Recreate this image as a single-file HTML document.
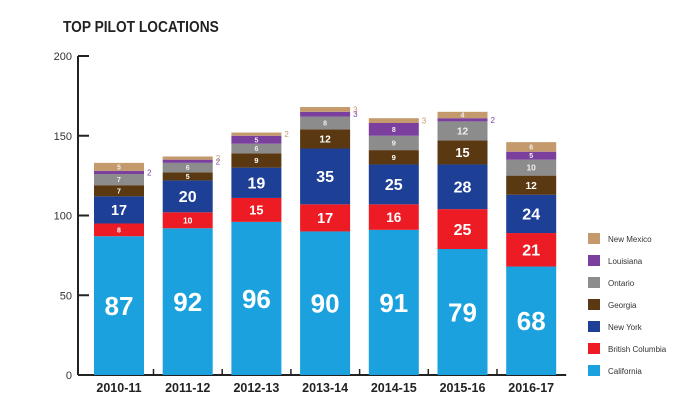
<!DOCTYPE html>
<html><head><meta charset="utf-8"><style>
body{margin:0;background:#fff;width:700px;height:414px;overflow:hidden;font-family:"Liberation Sans",sans-serif}
</style></head><body>
<svg id="chart" width="700" height="414" xmlns="http://www.w3.org/2000/svg">
<text x="63" y="32" font-size="16" font-weight="bold" fill="#222" transform="translate(63,0) scale(0.86,1) translate(-63,0)">TOP PILOT LOCATIONS</text>
<g id="axes"></g><g id="bars"></g><g id="legend"></g>
</svg>
<script>
const categories=["2010-11","2011-12","2012-13","2013-14","2014-15","2015-16","2016-17"];
const seriesNames=["California","British Columbia","New York","Georgia","Ontario","Louisiana","New Mexico"];
const california=[87,92,96,90,91,79,68];
const britishColumbia=[8,10,15,17,16,25,21];
const newYork=[17,20,19,35,25,28,24];
const georgia=[7,5,9,12,9,15,12];
const ontario=[7,6,6,8,9,12,10];
const louisiana=[2,2,5,3,8,2,5];
const newMexico=[5,2,2,3,3,4,6];
const yTicks=[0,50,100,150,200];
const colors=["#1ba1dd","#ed1c24","#1e3f96","#5a3812","#8c8c8c","#7b3f9e","#c49a6c"];
const series=[california,britishColumbia,newYork,georgia,ontario,louisiana,newMexico];
const NS="http://www.w3.org/2000/svg";
const y0=375,yTop=56,yMax=200;
const y=v=>y0-(v/yMax)*(y0-yTop);
const x=i=>94+i*68.7;
const bw=50;
function mk(t,a,p){const e=document.createElementNS(NS,t);for(const k in a)e.setAttribute(k,a[k]);p.appendChild(e);return e;}
const axes=document.getElementById('axes');
const ax=mk('line',{x1:78,y1:y(200),x2:78,y2:y0,stroke:'#222','stroke-width':2},axes);


const bl=mk('line',{x1:78,y1:y0,x2:x(categories.length-1)+bw+10,y2:y0,stroke:'#222','stroke-width':2},axes);


yTicks.forEach(t=>{
 mk('line',{x1:78,y1:y(t),x2:89,y2:y(t),stroke:'#222','stroke-width':2},axes);
 const tx=mk('text',{x:72,y:y(t)+4,'text-anchor':'end','font-size':11,fill:'#333'},axes);
 tx.textContent=t;
 
 
});
for(let i=0;i<categories.length-1;i++){mk('line',{x1:x(i)+bw+9.5,y1:y0,x2:x(i)+bw+9.5,y2:y0-6,stroke:'#222','stroke-width':1.5},axes);}
const bars=document.getElementById('bars');
categories.forEach((c,i)=>{
 let cum=0;
 series.forEach((s,k)=>{
  const v=s[i];const top=y(cum+v),bot=y(cum);
  const r=mk('rect',{x:x(i),y:top,width:bw,height:bot-top,fill:colors[k]},bars);
  
  
  const t=mk('text',{},bars);
  if(v<4 && k>=5){
   t.setAttribute('x',x(i)+bw+3);t.setAttribute('y',(top+bot)/2+3);
   t.setAttribute('font-size',8);t.setAttribute('fill',colors[k]);
  }else{
   const fs=k===0?26:Math.min(16,Math.max(7,v*0.85));
   t.setAttribute('x',x(i)+bw/2);t.setAttribute('y',(top+bot)/2+fs*0.36);
   t.setAttribute('text-anchor','middle');t.setAttribute('font-size',fs);
   t.setAttribute('font-weight','bold');t.setAttribute('fill',k>=4?'#eee':'#fff');
  }
  t.textContent=v;
  
  
  cum+=v;
 });
 const cl=mk('text',{x:x(i)+bw/2,y:392,'text-anchor':'middle','font-size':12.5,'font-weight':'bold',fill:'#222'},bars);
 cl.textContent=c;
 
 
});
const lg=document.getElementById('legend');
for(let k=seriesNames.length-1,j=0;k>=0;k--,j++){
 const yy=233+j*22;
 const g=mk('g',{},lg);
 
 
 mk('rect',{x:588,y:yy,width:12,height:11,fill:colors[k]},g);
 const t=mk('text',{x:608,y:yy+9,'font-size':8,fill:'#333'},g);
 t.textContent=seriesNames[k];
}
</script>
</body></html>
